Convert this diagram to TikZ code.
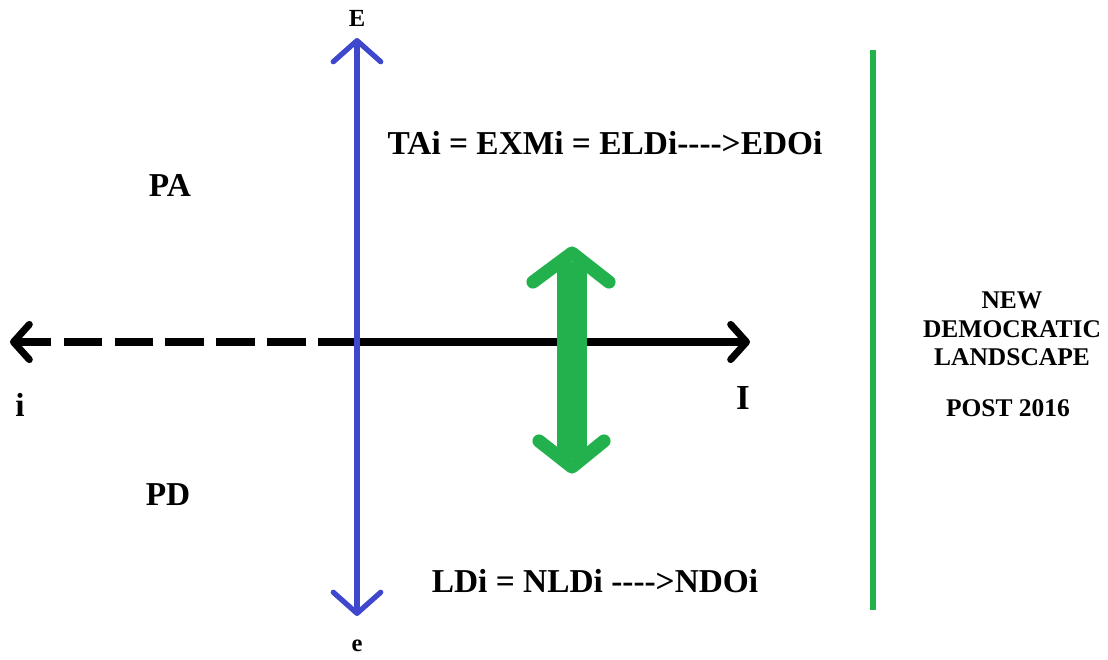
\documentclass[tikz,border=0pt]{standalone}
\usepackage{fontspec}
\setmainfont{Liberation Serif}
\usetikzlibrary{arrows.meta}
\definecolor{axisblue}{HTML}{3F48CC}
\definecolor{markgreen}{HTML}{22B14C}

\begin{document}
\begin{tikzpicture}[x=0.02cm,y=-0.02cm,
    lbl/.style={font=\bfseries\fontsize{19}{21}\selectfont},
    side/.style={font=\bfseries\fontsize{14.5}{16.2}\selectfont,align=center},
    barb/.style={line cap=round,line join=round}]
  \useasboundingbox (0,0) rectangle (1108,659);
  % axis ends
  \coordinate (Etop) at (357,38);
  \coordinate (Ebot) at (357,616);
  \coordinate (Ileft) at (10,342);
  \coordinate (Iright) at (750,342);
  \coordinate (X) at (357,342);
  % horizontal i--I axis
  \draw[line width=4pt,dash pattern=on 22pt off 7pt,-{Straight Barb[length=9pt,width=20pt,round]}] (X) -- (Ileft);
  \draw[line width=4pt,-{Straight Barb[length=9pt,width=20pt,round]}] (X) -- (Iright);
  % vertical e--E axis
  \draw[axisblue,line width=3pt,{Straight Barb[length=12pt,width=27pt,round]}-{Straight Barb[length=12pt,width=27pt,round]}] (Ebot) -- (Etop);
  % green double arrow
  \coordinate (Gtop) at (572,253);
  \coordinate (Gbot) at (572,467);
  \draw[markgreen,line width=17pt] (572,262) -- (572,458);
  \draw[markgreen,line width=7.5pt,barb] (533,282) -- (Gtop) -- (609,282);
  \draw[markgreen,line width=7.5pt,barb] (539,441) -- (Gbot) -- (604,441);
  % separator
  \draw[markgreen,line width=3.4pt] (873,50) -- (873,610);
  % labels
  \node[font=\bfseries\fontsize{14}{16}\selectfont] (E) at (357,18) {E};
  \node[font=\bfseries\fontsize{14}{16}\selectfont] (e) at (357,646) {e};
  \node[lbl] (i) at (20,405) {i};
  \node[font=\bfseries\fontsize{20}{22}\selectfont] (I) at (743,398) {I};
  \node[lbl] (PA) at (170,185) {PA};
  \node[lbl] (PD) at (168,495) {PD};
  \node[lbl] (top) at (605,143) {TAi = EXMi = ELDi-{}-{}-{}-{}>EDOi};
  \node[lbl] (bottom) at (595,581) {LDi = NLDi -{}-{}-{}-{}>NDOi};
  \node[side] (ndl) at (1012,329) {NEW\\DEMOCRATIC\\LANDSCAPE};
  \node[side] (post) at (1008,408) {POST 2016};
\end{tikzpicture}
\end{document}
